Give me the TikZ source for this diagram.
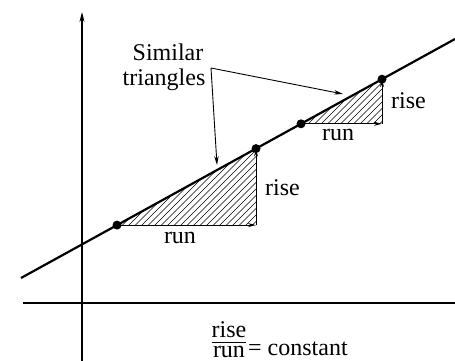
\documentclass[tikz,border=0pt]{standalone}
\usepackage{fontspec}
\setmainfont{Liberation Serif}
\usetikzlibrary{arrows.meta}
\begin{document}
\begin{tikzpicture}[x=1pt,y=-1pt,
  lbl/.style={font=\fontsize{24}{28}\selectfont, inner sep=0pt},
  axis/.style={line width=1.3pt},
  mainline/.style={line width=2.2pt},
  dotstyle/.style={circle, fill=black, inner sep=0pt, minimum size=9pt},
  measure/.style={line width=0.9pt, -{Stealth[length=8pt,width=4pt]}},
  leader/.style={line width=0.9pt, -{Stealth[length=9pt,width=4.5pt]}},
  hatch/.style={line width=0.5pt}]
\useasboundingbox (0,0) rectangle (455,361);
% axes
\coordinate (yb) at (82,361);
\coordinate (yt) at (82,12);
\coordinate (xl) at (23,303);
\coordinate (xr) at (455,303);
\draw[axis, -{Stealth[length=10pt,width=5pt]}] (yb) -- (yt);
\draw[axis] (xl) -- (xr);
% main line
\coordinate (L1) at (21,278);
\coordinate (L2) at (455,39);
\coordinate (A) at (117,225.1);
\coordinate (B) at (256,148.6);
\coordinate (Bc) at (256,225.1);
\coordinate (C) at (301,123.8);
\coordinate (D) at (382,79.2);
\coordinate (Dc) at (382,123.8);
% hatching
\begin{scope}
\clip (A) -- (B) -- (Bc) -- cycle;
\foreach \i in {0,...,40} {
  \draw[hatch] (37+\i*6.5,226) -- ++(80,-80);
}
\end{scope}
\begin{scope}
\clip (C) -- (D) -- (Dc) -- cycle;
\foreach \i in {0,...,25} {
  \draw[hatch] (255+\i*6.5,125) -- ++(50,-50);
}
\end{scope}
\draw[mainline] (L1) -- (L2);
% run / rise arrows
\draw[measure] (A) -- (Bc);
\draw[measure] (Bc) -- (B);
\draw[measure] (C) -- (Dc);
\draw[measure] (Dc) -- (D);
% dots
\node[dotstyle] (pA) at (A) {};
\node[dotstyle] (pB) at (B) {};
\node[dotstyle] (pC) at (C) {};
\node[dotstyle] (pD) at (D) {};
% labels
\node[lbl, anchor=base] (run1) at (180,243) {run};
\node[lbl, anchor=base west] (rise1) at (265,195) {rise};
\node[lbl, anchor=base] (run2) at (338,140) {run};
\node[lbl, anchor=base west] (rise2) at (391,108) {rise};
\node[lbl, anchor=base] (sim) at (168,60) {Similar};
\node[lbl, anchor=base] (tri) at (164,85) {triangles};
% leaders
\coordinate (K) at (211,68);
\coordinate (T1) at (217,165);
\coordinate (T2) at (343,94);
\draw[leader] (K) -- (T1);
\draw[leader] (K) -- (T2);
% formula
\node[lbl, anchor=base] (frac) at (229,357)
  {\vbox{\halign{\hfil#\hfil\cr rise\cr\noalign{\kern4pt\hrule height0.9pt\kern3pt}run\cr}}};
\node[lbl, anchor=base west] (const) at (248,355) {= constant};
\end{tikzpicture}
\end{document}
